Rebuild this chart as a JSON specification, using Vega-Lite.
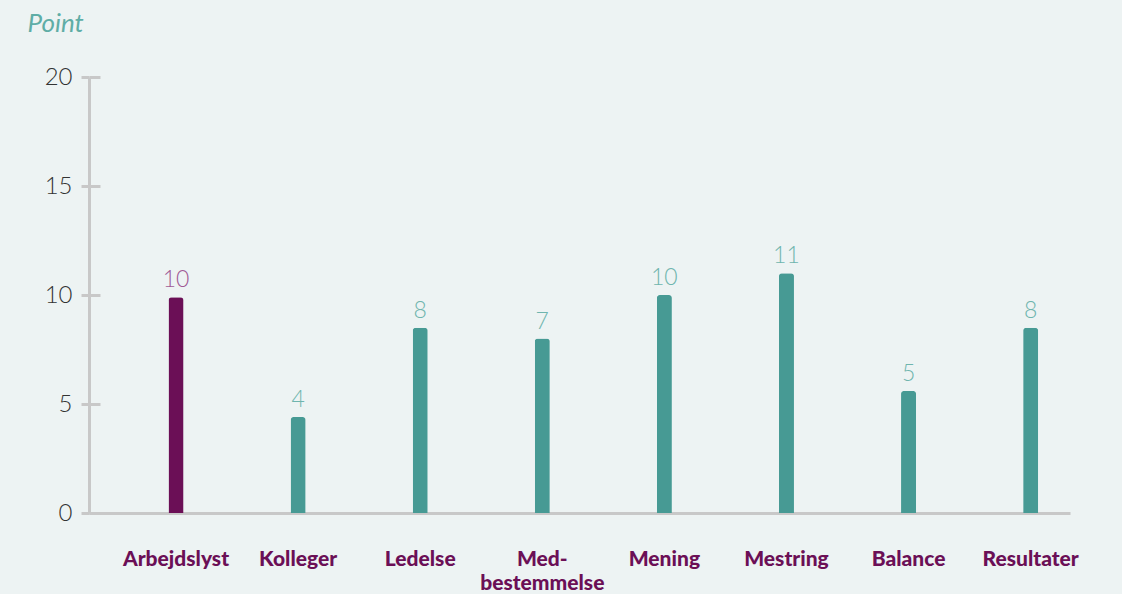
{
  "$schema": "https://vega.github.io/schema/vega-lite/v6.json",
  "autosize": "none",
  "width": 981,
  "height": 436,
  "padding": {"left": 89, "top": 77, "right": 52, "bottom": 81},
  "background": "#edf3f3",
  "config": {"view": {"stroke": null}, "font": "Lato"},
  "data": {
    "values": [
      {"kategori": "Arbejdslyst", "point": 9.9, "label": "10", "gruppe": "a"},
      {"kategori": "Kolleger", "point": 4.4, "label": "4", "gruppe": "b"},
      {"kategori": "Ledelse", "point": 8.5, "label": "8", "gruppe": "b"},
      {"kategori": "Medbestemmelse", "point": 8.0, "label": "7", "gruppe": "b"},
      {"kategori": "Mening", "point": 10.0, "label": "10", "gruppe": "b"},
      {"kategori": "Mestring", "point": 11.0, "label": "11", "gruppe": "b"},
      {"kategori": "Balance", "point": 5.6, "label": "5", "gruppe": "b"},
      {"kategori": "Resultater", "point": 8.5, "label": "8", "gruppe": "b"}
    ]
  },
  "encoding": {
    "x": {
      "field": "kategori",
      "type": "nominal",
      "sort": null,
      "scale": {"paddingInner": 0.877, "paddingOuter": 0.456, "align": 0.714},
      "axis": {
        "title": null,
        "labelAngle": 0,
        "ticks": false,
        "domainColor": "#c8c8c8",
        "domainWidth": 3,
        "labelFont": "Lato",
        "labelFontWeight": 900,
        "labelFontSize": 21,
        "labelColor": "#6b0f56",
        "labelBaseline": "alphabetic",
        "labelPadding": 52,
        "labelLineHeight": 24,
        "labelExpr": "datum.value == 'Medbestemmelse' ? ['Med-', 'bestemmelse'] : datum.label"
      }
    }
  },
  "layer": [
    {
      "mark": {"type": "bar", "cornerRadiusTopLeft": 3, "cornerRadiusTopRight": 3},
      "encoding": {
        "y": {
          "field": "point",
          "type": "quantitative",
          "scale": {"domain": [0, 20]},
          "axis": {
            "title": "Point",
            "titleAngle": 0,
            "titleAlign": "left",
            "titleBaseline": "alphabetic",
            "titleX": -62,
            "titleY": -46,
            "titleFont": "Lato",
            "titleFontStyle": "italic",
            "titleFontWeight": "normal",
            "titleFontSize": 26,
            "titleColor": "#5fada6",
            "values": [0, 5, 10, 15, 20],
            "grid": false,
            "domainColor": "#c8c8c8",
            "domainWidth": 3,
            "tickColor": "#c8c8c8",
            "tickWidth": 3,
            "tickSize": 8,
            "labelPadding": 9,
            "labelFont": "Lato",
            "labelFontWeight": 300,
            "labelFontSize": 24,
            "labelColor": "#333333"
          }
        },
        "color": {
          "field": "gruppe",
          "type": "nominal",
          "scale": {"domain": ["a", "b"], "range": ["#6b0f56", "#479a94"]},
          "legend": null
        }
      }
    },
    {
      "mark": {"type": "text", "baseline": "alphabetic", "dy": -10, "fontSize": 23, "fontWeight": 300, "font": "Lato"},
      "encoding": {
        "y": {
          "field": "point",
          "type": "quantitative",
          "axis": {
            "orient": "left",
            "title": null,
            "labels": false,
            "domain": false,
            "grid": false,
            "values": [0, 5, 10, 15, 20],
            "tickColor": "#c8c8c8",
            "tickWidth": 3,
            "tickSize": -11
          }
        },
        "text": {"field": "label"},
        "color": {
          "field": "gruppe",
          "type": "nominal",
          "scale": {"domain": ["a", "b"], "range": ["#a05a96", "#6fb5ae"]},
          "legend": null
        }
      }
    }
  ],
  "resolve": {"axis": {"y": "independent"}, "scale": {"color": "independent"}}
}
